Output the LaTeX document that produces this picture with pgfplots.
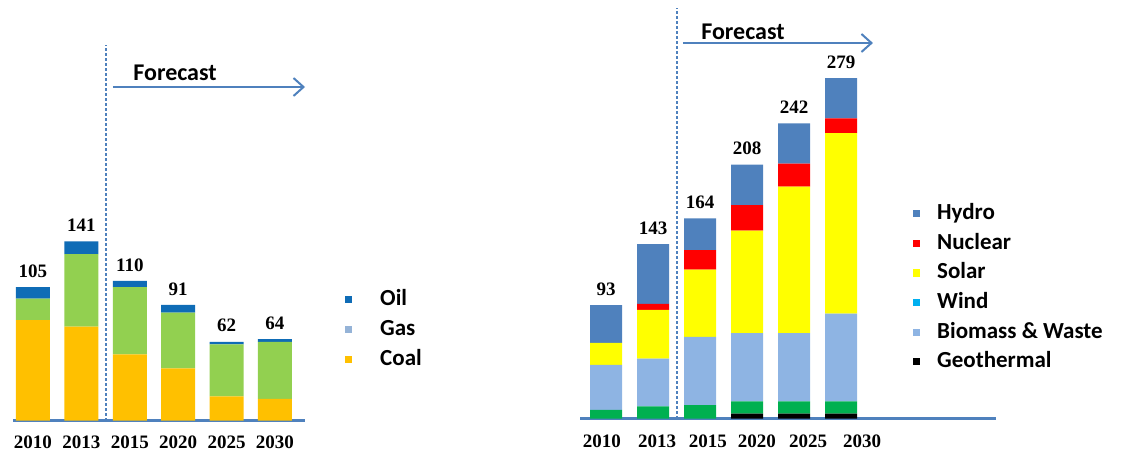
\documentclass[border=0pt]{standalone}
\usepackage{pgfplots}
\pgfplotsset{compat=1.18}
\usepackage{fontspec}
\setmainfont{Liberation Serif}
\newfontfamily\calib{Carlito}
\usetikzlibrary{arrows.meta}
\definecolor{oilC}{HTML}{0F6CB6}
\definecolor{gasC}{HTML}{92D050}
\definecolor{coalC}{HTML}{FFC000}
\definecolor{gasL}{HTML}{95B3D7}
\definecolor{hydroC}{HTML}{4F81BD}
\definecolor{nucC}{HTML}{FF0000}
\definecolor{solC}{HTML}{FFFF00}
\definecolor{windC}{HTML}{00B0F0}
\definecolor{bioC}{HTML}{8EB4E3}
\definecolor{grnC}{HTML}{00B050}
\definecolor{axC}{HTML}{4F81BD}
\newcommand\sqimg[1]{\addlegendimage{legend image code/.code={\fill[#1] (0pt,-1.8pt) rectangle (3.6pt,1.8pt);}}}
\pgfplotsset{
  common/.style={
    scale only axis, clip=false,
    axis x line=bottom, axis y line=none,
    x axis line style={color=axC, line width=1.5pt, -},
    major tick length=0pt,
    ymin=0,
    ybar stacked,
    /pgf/number format/assume math mode=true,
    xticklabel style={font=\bfseries\fontsize{9.5}{10}\selectfont, anchor=center},
    every axis plot/.append style={draw=none, forget plot},
    legend cell align=left,
    legend style={draw=none, fill=none, inner sep=0pt, outer sep=0pt,
      nodes={inner sep=0pt, outer sep=0pt, text height=8pt, text depth=2pt, font=\calib\bfseries\fontsize{11.5}{12}\selectfont},
      anchor=north west},
  },
  totals/.style={fill=none, draw=none, nodes near coords, point meta=explicit symbolic,
    every node near coord/.append style={font=\bfseries\fontsize{9.5}{10}\selectfont, anchor=center, yshift=8pt, inner sep=0pt, text=black}},
}
\begin{document}
\begin{tikzpicture}
\path (0,0) rectangle (564pt,228.5pt);
% ---------------- left chart ----------------
\begin{axis}[common,
  at={(6.5pt,18.25pt)}, anchor=south west,
  width=146pt, height=190.5pt,
  xmin=-0.413, xmax=5.62, ymax=300,
  bar width=17pt,
  xtick={0,1,2,3,4,5},
  xticklabels={2010,2013,2015,2020,2025,2030},
  xticklabel style={yshift=-10.75pt},
  legend style={at={(1.137,0.344)}, column sep=14pt, row sep=5pt},
]
\addplot[fill=coalC] coordinates {(0,79) (1,74) (2,52) (3,41) (4,19) (5,17)};
\addplot[fill=gasC] coordinates {(0,17) (1,57) (2,53) (3,44) (4,41) (5,45)};
\addplot[fill=oilC] coordinates {(0,9) (1,10) (2,5) (3,6) (4,2) (5,2)};
\addplot[totals] coordinates {(0,0.001) [105] (1,0.001) [141] (2,0.001) [110] (3,0.001) [91] (4,0.001) [62] (5,0.001) [64]};
\sqimg{oilC}\addlegendentry{Oil}
\sqimg{gasL}\addlegendentry{Gas}
\sqimg{coalC}\addlegendentry{Coal}
\draw[axC, line width=0.6pt, dash pattern=on 1.5pt off 1pt] (axis cs:1.508,0) -- (axis cs:1.508,295.7);
\draw[axC, line width=1pt, -{Straight Barb[length=5pt,width=9pt]}] (axis cs:1.653,262.6) -- (axis cs:5.62,262.6);
\node[anchor=west, inner sep=0pt, font=\calib\bfseries\fontsize{12}{13}\selectfont] at (axis cs:2.066,273.6) {Forecast};
\end{axis}
% ---------------- right chart ----------------
\begin{axis}[common,
  at={(290pt,19.25pt)}, anchor=south west,
  width=208pt, height=204.96pt,
  xmin=-0.553, xmax=8.298, ymax=336,
  bar width=16pt,
  xtick={-0.09,1.09,2.17,3.21,4.30,5.45},
  xticklabels={2010,2013,2015,2020,2025,2030},
  xticklabel style={yshift=-11.25pt},
  legend style={at={(0.8005,0.524)}, column sep=8.5pt, row sep=4.8pt},
]
\addplot[fill=black] coordinates {(0,0) (1,0) (2,0) (3,4) (4,4) (5,4)};
\addplot[fill=grnC] coordinates {(0,7) (1,10) (2,11) (3,10) (4,10) (5,10)};
\addplot[fill=bioC] coordinates {(0,37) (1,39) (2,56) (3,56) (4,56) (5,72)};
\addplot[fill=solC] coordinates {(0,18) (1,40) (2,55) (3,84) (4,120) (5,148)};
\addplot[fill=nucC] coordinates {(0,0) (1,5) (2,16) (3,21) (4,19) (5,12)};
\addplot[fill=hydroC] coordinates {(0,31) (1,49) (2,26) (3,33) (4,33) (5,33)};
\addplot[totals] coordinates {(0,0.001) [93] (1,0.001) [143] (2,0.001) [164] (3,0.001) [208] (4,0.001) [242] (5,0.001) [279]};
\sqimg{hydroC}\addlegendentry{Hydro}
\sqimg{nucC}\addlegendentry{Nuclear}
\sqimg{solC}\addlegendentry{Solar}
\sqimg{windC}\addlegendentry{Wind}
\sqimg{bioC}\addlegendentry{Biomass \& Waste}
\sqimg{black}\addlegendentry{Geothermal}
\draw[axC, line width=0.6pt, dash pattern=on 1.5pt off 1pt] (axis cs:1.51,0) -- (axis cs:1.51,336.5);
\draw[axC, line width=1pt, -{Straight Barb[length=5pt,width=9pt]}] (axis cs:1.638,307.8) -- (axis cs:5.68,307.8);
\node[anchor=west, inner sep=0pt, font=\calib\bfseries\fontsize{12}{13}\selectfont] at (axis cs:2.02,316.8) {Forecast};
\end{axis}
\end{tikzpicture}
\end{document}
